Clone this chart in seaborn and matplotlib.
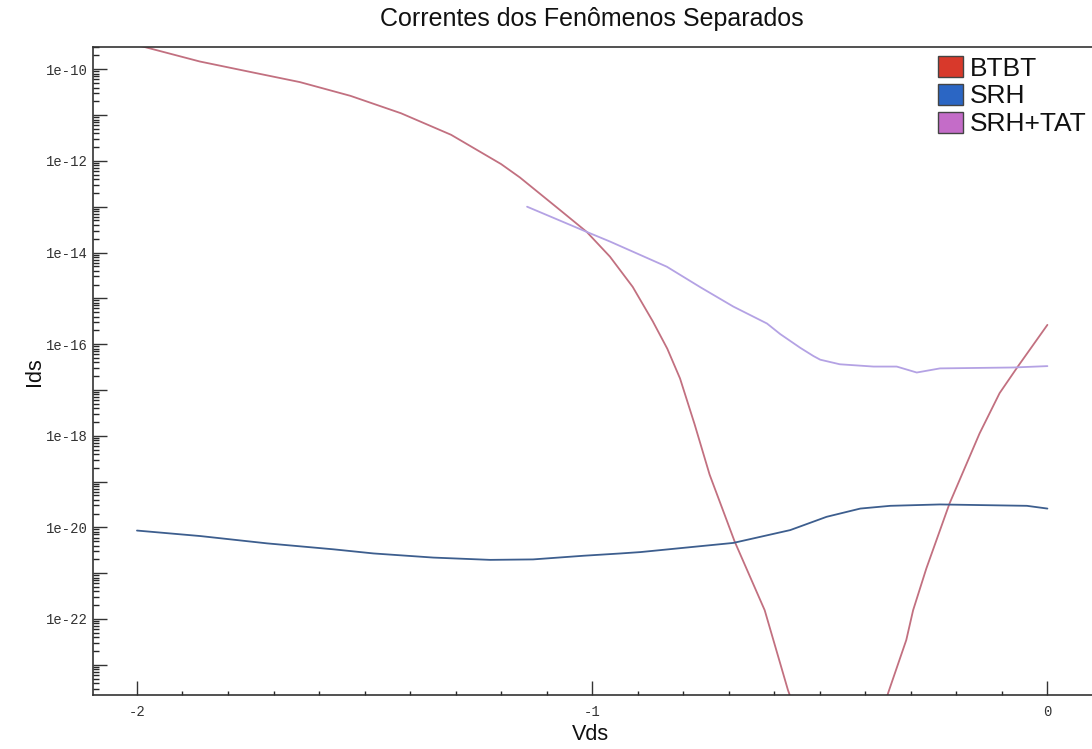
import numpy as np
import pandas as pd
import matplotlib
matplotlib.use("Agg")
import matplotlib.pyplot as plt
import seaborn as sns
from matplotlib.patches import Patch
from matplotlib.ticker import LogLocator, FuncFormatter, MultipleLocator, NullFormatter, FixedLocator

# ---- data (log10 of current) ----
btbt_vds = [-2.0, -1.862, -1.75, -1.642, -1.531, -1.42, -1.31, -1.2, -1.159, -1.071, -1.012,
            -0.961, -0.911, -0.867, -0.835, -0.807, -0.775, -0.742, -0.687, -0.621, -0.570, -0.50,
            -0.45, -0.40, -0.350, -0.310, -0.295, -0.266, -0.215, -0.149, -0.105, -0.065, 0.0]
btbt_log = [-9.47, -9.83, -10.06, -10.28, -10.58, -10.96, -11.43, -12.07, -12.36, -13.07, -13.55,
            -14.09, -14.75, -15.50, -16.10, -16.75, -17.75, -18.85, -20.31, -21.81, -23.55, -25.5,
            -26.5, -25.5, -23.62, -22.46, -21.81, -20.90, -19.48, -17.95, -17.07, -16.49, -15.58]

srh_vds = [-2.0, -1.861, -1.714, -1.568, -1.480, -1.349, -1.224, -1.130, -1.019, -0.938, -0.894,
           -0.690, -0.565, -0.485, -0.411, -0.345, -0.236, -0.045, 0.0]
srh_log = [-20.07, -20.19, -20.35, -20.48, -20.57, -20.66, -20.71, -20.70, -20.62, -20.57, -20.54,
           -20.34, -20.06, -19.77, -19.59, -19.53, -19.50, -19.53, -19.59]

tat_vds = [-1.143, -1.012, -0.961, -0.836, -0.762, -0.690, -0.616, -0.587, -0.543, -0.514, -0.499,
           -0.456, -0.382, -0.331, -0.287, -0.236, -0.075, 0.0]
tat_log = [-13.00, -13.55, -13.76, -14.31, -14.76, -15.18, -15.55, -15.78, -16.08, -16.26, -16.34,
           -16.44, -16.49, -16.49, -16.62, -16.53, -16.51, -16.48]

series_names = ["BTBT", "SRH", "SRH+TAT"]
line_colors = ["#c27080", "#3d5e8e", "#b4a2e4"]
legend_colors = ["#d8392b", "#2b66c4", "#c46cc8"]

df = pd.concat([
    pd.DataFrame({"Vds": btbt_vds, "Ids": 10.0 ** np.array(btbt_log), "serie": "BTBT"}),
    pd.DataFrame({"Vds": srh_vds, "Ids": 10.0 ** np.array(srh_log), "serie": "SRH"}),
    pd.DataFrame({"Vds": tat_vds, "Ids": 10.0 ** np.array(tat_log), "serie": "SRH+TAT"}),
], ignore_index=True)

sns.set_style("white")
plt.rcParams["font.family"] = ["Liberation Sans", "DejaVu Sans"]

fig = plt.figure(figsize=(10.92, 7.49), dpi=100)
ax = fig.add_axes([93 / 1092, 1 - 695 / 749, 1 - 93 / 1092, (695 - 46.7) / 749])

sns.lineplot(data=df, x="Vds", y="Ids", hue="serie", hue_order=series_names,
             palette=dict(zip(series_names, line_colors)), estimator=None, sort=False,
             linewidth=1.3, legend=False, ax=ax)

ax.set_yscale("log")
ax.set_xlim(-2.0966, 0.098)
ax.set_ylim(10 ** -23.66, 10 ** -9.507)

# spines
for s in ["left", "bottom", "top"]:
    ax.spines[s].set_visible(True)
    ax.spines[s].set_color("#333333")
    ax.spines[s].set_linewidth(1.2)
ax.spines["right"].set_visible(False)

# x ticks
ax.xaxis.set_major_locator(FixedLocator([-2, -1, 0]))
ax.xaxis.set_minor_locator(MultipleLocator(0.1))
ax.xaxis.set_major_formatter(FuncFormatter(lambda v, p: f"{v:g}"))
ax.tick_params(axis="x", which="major", direction="in", length=10, width=1, bottom=True, top=False,
               labelsize=10, pad=7, colors="#333333")
ax.tick_params(axis="x", which="minor", direction="in", length=3, width=1, bottom=True, top=False)

# y ticks
ax.yaxis.set_major_locator(LogLocator(base=10, numticks=40))
ax.yaxis.set_minor_locator(LogLocator(base=10, subs=np.arange(2, 10), numticks=40))
def yfmt(v, p):
    e = int(round(np.log10(v)))
    return f"1e{e}" if e % 2 == 0 else ""
ax.yaxis.set_major_formatter(FuncFormatter(yfmt))
ax.yaxis.set_minor_formatter(NullFormatter())
ax.tick_params(axis="y", which="major", direction="in", length=10, width=1, left=True, right=False,
               labelsize=10, pad=4, colors="#333333")
ax.tick_params(axis="y", which="minor", direction="in", length=4, width=1, left=True, right=False)
for lab in ax.get_xticklabels() + ax.get_yticklabels():
    lab.set_family("Liberation Mono")
    lab.set_color("#333333")

ax.set_xlabel("")
ax.set_ylabel("")

fig.text(592 / 1092, 1 - 19 / 749, "Correntes dos Fenômenos Separados", ha="center", va="center",
         fontsize=18, color="#111111")
fig.text(590 / 1092, 1 - 735 / 749, "Vds", ha="center", va="center", fontsize=15.5, color="#111111")
fig.text(35 / 1092, 1 - 372 / 749, "Ids", ha="center", va="center", rotation=90, fontsize=15.5,
         color="#111111")

handles = [Patch(facecolor=c, edgecolor="#444444", label=n) for n, c in zip(series_names, legend_colors)]
fig.legend(handles=handles, loc="upper left", bbox_to_anchor=(938 / 1092, 1 - 56 / 749),
           frameon=False, fontsize=19, handlelength=0.95, handleheight=0.85, handletextpad=0.27,
           labelspacing=0.12, borderaxespad=0, borderpad=0, labelcolor="#111111")

fig.savefig("out.png", dpi=100, facecolor="white")
